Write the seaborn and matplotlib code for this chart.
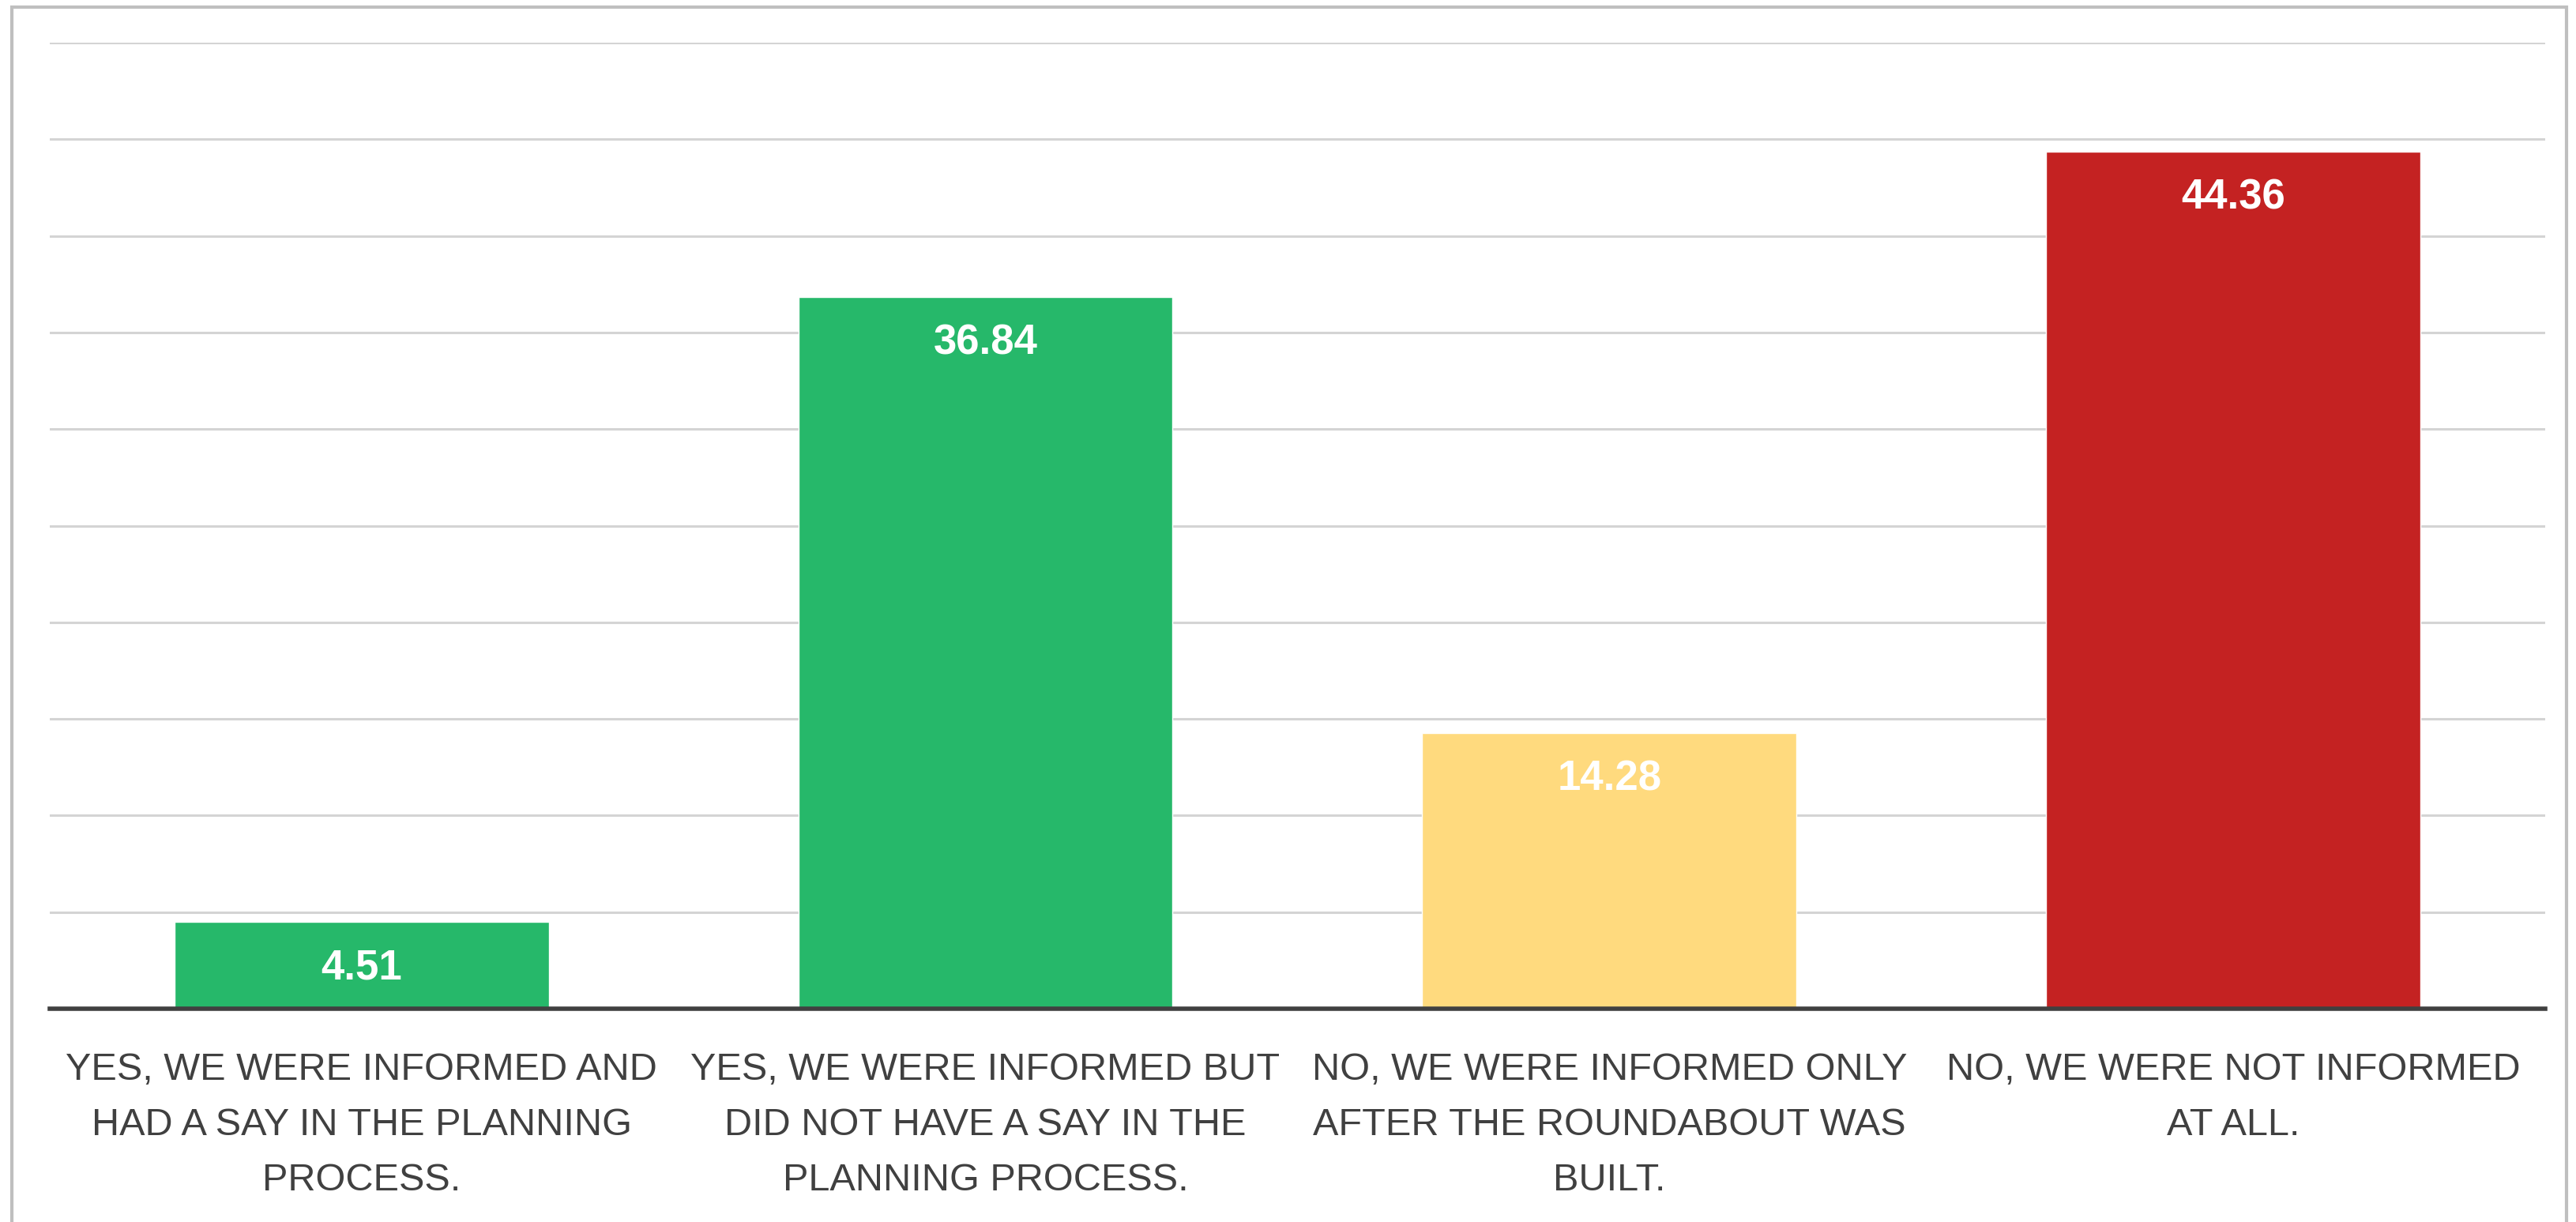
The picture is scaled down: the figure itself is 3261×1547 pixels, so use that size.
import matplotlib
matplotlib.use("Agg")
import matplotlib.pyplot as plt
import seaborn as sns
import pandas as pd
from matplotlib.patches import Rectangle

# survey answers and shares (percent)
categories = [
    "YES, WE WERE INFORMED AND\nHAD A SAY IN THE PLANNING\nPROCESS.",
    "YES, WE WERE INFORMED BUT\nDID NOT HAVE A SAY IN THE\nPLANNING PROCESS.",
    "NO, WE WERE INFORMED ONLY\nAFTER THE ROUNDABOUT WAS\nBUILT.",
    "NO, WE WERE NOT INFORMED\nAT ALL.",
]
values = [4.51, 36.84, 14.28, 44.36]
bar_colors = ["#26B86A", "#26B86A", "#FFDA7E", "#C42222"]

df = pd.DataFrame({"answer": categories, "share": values})

sns.set_style("white")
plt.rcParams["font.family"] = ["Liberation Sans", "DejaVu Sans"]

fig = plt.figure(figsize=(32.62, 15.47), dpi=100)
ax = fig.add_axes([0.0193, 0.1745, 0.9684, 0.7905])

sns.barplot(data=df, x="answer", y="share", hue="answer", palette=bar_colors,
            width=0.6, saturation=1, legend=False, ax=ax, zorder=3)

ax.set_xlim(-0.5, 3.5)
ax.set_ylim(0, 50)
ax.set_yticks(range(0, 51, 5))
ax.yaxis.grid(True, color="#D4D4D4", linewidth=2.2, zorder=0)
ax.set_axisbelow(True)
ax.tick_params(axis="y", left=False, labelleft=False)
ax.tick_params(axis="x", bottom=False, pad=36, labelsize=35, labelcolor="#404040")
for lbl in ax.get_xticklabels():
    lbl.set_linespacing(1.72)
ax.set_xlabel("")
ax.set_ylabel("")
for side in ["top", "right", "left"]:
    ax.spines[side].set_visible(False)
ax.spines["bottom"].set_color("#404040")
ax.spines["bottom"].set_linewidth(4)
ax.spines["bottom"].set_zorder(4)

# value labels inside the top of each bar
for i, v in enumerate(values):
    ax.annotate(f"{v:.2f}", (i, v), xytext=(0, -42), textcoords="offset points",
                ha="center", va="center", color="white", fontsize=38,
                fontweight="bold", zorder=5)

# outer frame
fig.patches.append(Rectangle((0.0046, -0.05), 0.9915, 1.044, transform=fig.transFigure,
                             fill=False, edgecolor="#BFBFBF", linewidth=3))

fig.savefig("out.png", dpi=100, facecolor="white")
